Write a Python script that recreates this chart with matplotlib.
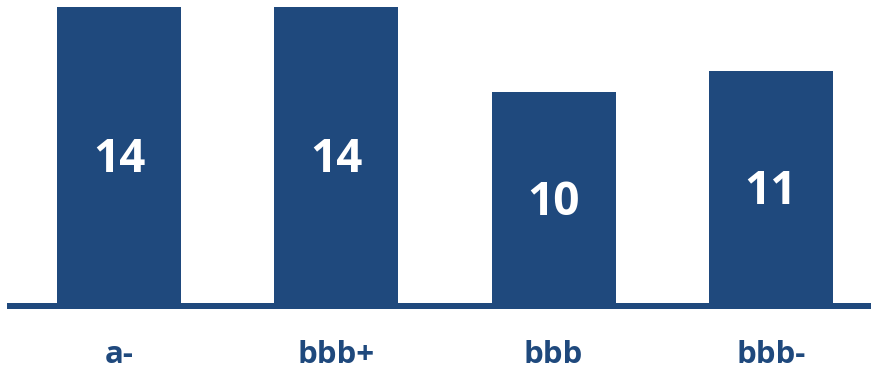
import matplotlib
matplotlib.use("Agg")
import matplotlib.pyplot as plt
import numpy as np

categories = ["a-", "bbb+", "bbb", "bbb-"]
values = [14, 14, 10, 11]

color = "#1F497D"
W, H = 871, 372
fig = plt.figure(figsize=(W / 100, H / 100), dpi=100)
# axes: left 10 px, right edge, baseline at 306 px from top, top at 0
base_px = 306
ax = fig.add_axes([10 / W, (H - base_px) / H, (W - 10) / W, base_px / H])

px_per_unit = 21.39
spacing = 217.3
c0 = 119
x = np.arange(len(categories))
ax.bar(x, values, width=124 / spacing, color=color, zorder=2)
ax.set_xlim((10 - c0) / spacing, (W - c0) / spacing)
ax.set_ylim(0, base_px / px_per_unit)
ax.axhline(0, color=color, lw=6 * 72 / 100, zorder=3, clip_on=False)
ax.axis("off")

for xi, v in zip(x, values):
    ax.text(xi, v / 2 - 3.5 / px_per_unit, str(v), ha="center", va="center",
            color="white", fontsize=33, fontweight="bold",
            family="Open Sans", zorder=4)

for xi, c in zip(x, categories):
    ax.text(xi, -(363 - base_px) / px_per_unit, c, ha="center", va="baseline",
            color=color, fontsize=22.5, fontweight="bold", family="Open Sans",
            clip_on=False)

fig.savefig("out.png", dpi=100)
